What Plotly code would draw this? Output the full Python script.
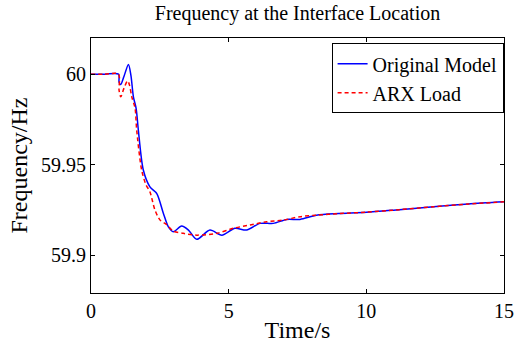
import plotly.graph_objects as go

# Time (s) and frequency (Hz)
t_orig = [0, 0.5, 1.0, 1.02, 1.08, 1.2, 1.36, 1.45, 1.54, 1.64, 1.72, 1.90, 2.14, 2.39,
          2.63, 2.81, 2.99, 3.29, 3.54, 3.84, 4.32, 4.75, 5.23, 5.65, 6.14, 6.62, 7.11,
          7.59, 8.19, 9.0, 10.0, 11.2, 12.44, 13.7, 15.0]
f_orig = [60.0, 60.0, 60.0, 59.9956, 59.9943, 59.9989, 60.0054, 59.9994, 59.9875, 59.981,
          59.969, 59.947, 59.9377, 59.934, 59.923, 59.9156, 59.9129, 59.916, 59.9138,
          59.9087, 59.9138, 59.911, 59.9148, 59.9138, 59.9175, 59.9175, 59.9197, 59.9197,
          59.922, 59.9229, 59.9236, 59.9251, 59.9267, 59.9282, 59.9294]

t_arx = [0, 0.5, 1.0, 1.02, 1.08, 1.2, 1.33, 1.40, 1.48, 1.60, 1.66, 1.84, 2.0, 2.14,
         2.32, 2.51, 2.75, 2.99, 3.35, 3.84, 4.57, 5.17, 5.78, 6.38, 6.98, 7.59, 8.19,
         9.0, 10.0, 11.2, 12.44, 13.7, 15.0]
f_arx = [60.0, 60.0, 60.0, 59.991, 59.9875, 59.9923, 59.9963, 59.9939, 59.9875, 59.9812,
         59.969, 59.947, 59.9387, 59.935, 59.925, 59.9193, 59.9168, 59.9132, 59.912,
         59.911, 59.912, 59.9148, 59.9166, 59.9184, 59.9193, 59.9212, 59.922, 59.9229,
         59.9237, 59.9251, 59.9267, 59.9282, 59.9294]

x_ticks = [0, 5, 10, 15]
y_ticks = [59.9, 59.95, 60.0]
y_tick_text = ["59.9", "59.95", "60"]

FONT = "Liberation Serif"

fig = go.Figure()
fig.add_trace(go.Scatter(x=t_orig, y=f_orig, mode="lines", name="Original Model",
                         line=dict(color="rgb(0,0,255)", width=1.5, shape="spline", smoothing=0.8)))
fig.add_trace(go.Scatter(x=t_arx, y=f_arx, mode="lines", name="ARX Load",
                         line=dict(color="rgb(255,0,0)", width=1.5, dash="4px,3px",
                                   shape="spline", smoothing=0.8)))

fig.update_layout(
    width=519, height=345,
    margin=dict(l=91, r=15, t=38, b=52, autoexpand=False),
    paper_bgcolor="white", plot_bgcolor="white",
    font=dict(family=FONT, size=20, color="black"),
    title=dict(text="Frequency at the Interface Location", x=(91 + 504) / 2 / 519, xanchor="center",
               y=1 - 13 / 345, yanchor="middle", yref="container",
               font=dict(family=FONT, size=20, color="black")),
    showlegend=True,
    legend=dict(x=0.999, y=0.979, xanchor="right", yanchor="top",
                bgcolor="white", bordercolor="black", borderwidth=1,
                font=dict(family=FONT, size=20, color="black"),
                tracegroupgap=0, itemwidth=30),
    xaxis=dict(range=[0, 15], tickvals=x_ticks, ticks="inside", ticklen=4, tickcolor="black",
               showline=True, linecolor="black", linewidth=1, mirror="ticks", showgrid=False,
               zeroline=False, automargin=False,
               title=dict(text="Time/s", standoff=0),
               tickfont=dict(family=FONT, size=20)),
    yaxis=dict(range=[59.879, 60.020], tickvals=y_ticks, ticktext=y_tick_text, ticks="inside",
               ticklen=4, tickcolor="black", showline=True, linecolor="black", linewidth=1,
               mirror="ticks", showgrid=False, zeroline=False, automargin=False,
               title=dict(text="Frequency/Hz", standoff=6),
               tickfont=dict(family=FONT, size=20)),
)

fig.write_html("out.html")
